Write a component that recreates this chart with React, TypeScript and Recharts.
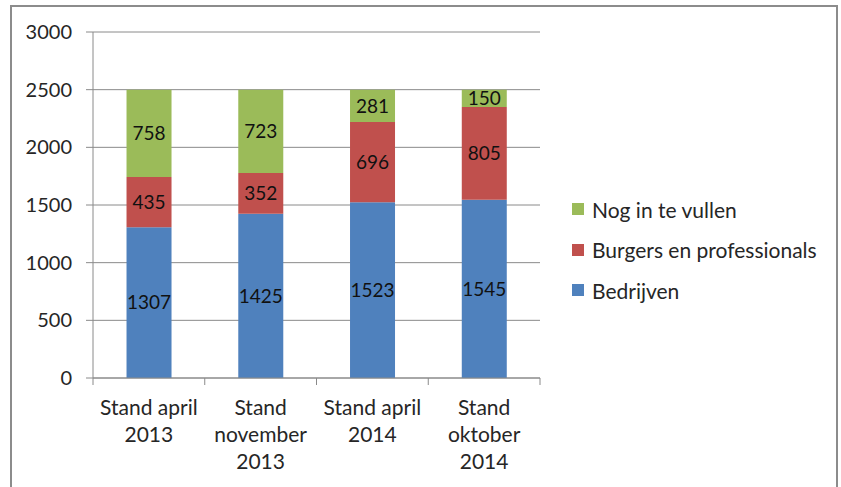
import React from "react";
import {
  BarChart,
  Bar,
  XAxis,
  YAxis,
  CartesianGrid,
  LabelList,
} from "recharts";

const CATEGORIES = [
  "Stand april 2013",
  "Stand november 2013",
  "Stand april 2014",
  "Stand oktober 2014",
];

// how the tick labels break over lines
const TICK_LINES = [
  ["Stand april", "2013"],
  ["Stand", "november", "2013"],
  ["Stand april", "2014"],
  ["Stand", "oktober", "2014"],
];

const BEDRIJVEN = [1307, 1425, 1523, 1545];
const BURGERS = [435, 352, 696, 805];
const NOG_IN_TE_VULLEN = [758, 723, 281, 150];

const Y_TICKS = [0, 500, 1000, 1500, 2000, 2500, 3000];

const COLORS = {
  blue: "#4F81BD",
  red: "#C0504D",
  green: "#9BBB59",
};

const LEGEND_ITEMS = [
  { name: "Nog in te vullen", color: COLORS.green },
  { name: "Burgers en professionals", color: COLORS.red },
  { name: "Bedrijven", color: COLORS.blue },
];

const FONT = "Lato, 'Liberation Sans', sans-serif";
const TEXT = "#262626";
const LINE = "#8a8a8a";

const WIDTH = 841;
const HEIGHT = 487;
const Y_AXIS_W = 93;
const RIGHT = 301;
const BAND = (WIDTH - Y_AXIS_W - RIGHT) / CATEGORIES.length;

const data = CATEGORIES.map((name, i) => ({
  name,
  bedrijven: BEDRIJVEN[i],
  burgers: BURGERS[i],
  nog: NOG_IN_TE_VULLEN[i],
}));

function CategoryTick(props: any) {
  const { x, y, payload, index } = props;
  const lines = TICK_LINES[index] || [payload.value];
  const left = x - BAND / 2;
  return (
    <g>
      <line x1={left} y1={y - 8} x2={left} y2={y - 1} stroke={LINE} />
      {index === CATEGORIES.length - 1 && (
        <line
          x1={x + BAND / 2}
          y1={y - 8}
          x2={x + BAND / 2}
          y2={y - 1}
          stroke={LINE}
        />
      )}
      <text
        x={x}
        y={y + 29}
        textAnchor="middle"
        fill={TEXT}
        fontSize={21}
        fontFamily={FONT}
      >
        {lines.map((l: string, i: number) => (
          <tspan key={i} x={x} dy={i === 0 ? 0 : 27}>
            {l}
          </tspan>
        ))}
      </text>
    </g>
  );
}

function ChartLegend() {
  return (
    <div
      style={{
        position: "absolute",
        left: 572,
        top: 189,
        fontFamily: FONT,
        fontSize: 21,
        color: TEXT,
      }}
    >
      {LEGEND_ITEMS.map((item) => (
        <div
          key={item.name}
          style={{ display: "flex", alignItems: "center", height: 40.5, whiteSpace: "nowrap" }}
        >
          <span
            style={{
              display: "inline-block",
              width: 12,
              height: 12,
              background: item.color,
              marginRight: 8,
            }}
          />
          {item.name}
        </div>
      ))}
    </div>
  );
}

export default function App() {
  const labelStyle = { fill: "#111", fontSize: 19, fontFamily: FONT };
  return (
    <div
      style={{
        position: "absolute",
        left: 0,
        top: 0,
        width: WIDTH,
        height: HEIGHT,
        overflow: "hidden",
        background: "#fff",
      }}
    >
      <div
        style={{
          position: "absolute",
          left: 10,
          top: 5,
          width: 824,
          height: 600,
          border: "2px solid #8c8c8c",
        }}
      />
      <div style={{ position: "absolute", left: 0, top: 0 }}>
        <BarChart
          width={WIDTH}
          height={HEIGHT}
          data={data}
          margin={{ top: 32, right: RIGHT, bottom: 9, left: 0 }}
          barCategoryGap="30%"
        >
          <CartesianGrid vertical={false} stroke={LINE} />
          <XAxis
            dataKey="name"
            interval={0}
            height={100}
            axisLine={{ stroke: LINE }}
            tickLine={false}
            tick={<CategoryTick />}
          />
          <YAxis
            width={Y_AXIS_W}
            domain={[0, 3000]}
            ticks={Y_TICKS}
            axisLine={{ stroke: LINE }}
            tickLine={{ stroke: LINE }}
            tickSize={7}
            tickMargin={14}
            tick={{ fill: TEXT, fontSize: 20, fontFamily: FONT }}
          />
          <Bar
            dataKey="bedrijven"
            name="Bedrijven"
            stackId="a"
            fill={COLORS.blue}
            isAnimationActive={false}
          >
            <LabelList dataKey="bedrijven" position="center" style={labelStyle} />
          </Bar>
          <Bar
            dataKey="burgers"
            name="Burgers en professionals"
            stackId="a"
            fill={COLORS.red}
            isAnimationActive={false}
          >
            <LabelList dataKey="burgers" position="center" style={labelStyle} />
          </Bar>
          <Bar
            dataKey="nog"
            name="Nog in te vullen"
            stackId="a"
            fill={COLORS.green}
            isAnimationActive={false}
          >
            <LabelList dataKey="nog" position="center" style={labelStyle} />
          </Bar>
        </BarChart>
      </div>
      <ChartLegend />
    </div>
  );
}
